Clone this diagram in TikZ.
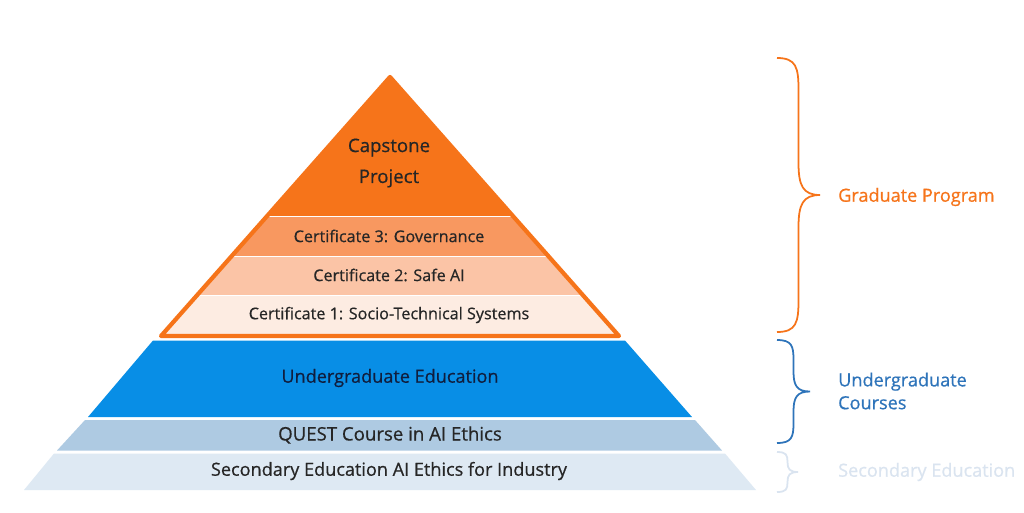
\documentclass[tikz,border=0pt]{standalone}
\usepackage{fontspec}
\setmainfont{Open Sans}[FakeBold=0.6]
\usepackage{tkz-euclide}

\definecolor{naranja}{RGB}{246,116,26}
\definecolor{certtres}{RGB}{248,152,96}
\definecolor{certdos}{RGB}{251,196,166}
\definecolor{certuno}{RGB}{253,236,226}
\definecolor{azul}{RGB}{8,142,230}
\definecolor{azulquest}{RGB}{174,202,226}
\definecolor{azulsec}{RGB}{222,233,243}
\definecolor{textoazul}{RGB}{46,116,186}
\definecolor{textosec}{RGB}{218,228,240}
\definecolor{marino}{RGB}{16,30,62}

\tikzset{
  etiqueta/.style={font=\fontsize{9.2}{10}\selectfont, text=black!85},
  lado/.style={anchor=west, align=left, font=\fontsize{10.3}{13}\selectfont},
  pics/llave/.style n args={3}{code={
    \draw (0,0) .. controls (0.45*#2,0) and (0.5*#2,0.3*#3) .. (0.5*#2,#3)
      -- (0.5*#2,0.5*#1-#3)
      .. controls (0.5*#2,0.5*#1-0.3*#3) and (0.6*#2,0.5*#1) .. (#2,0.5*#1)
      .. controls (0.6*#2,0.5*#1) and (0.5*#2,0.5*#1+0.3*#3) .. (0.5*#2,0.5*#1+#3)
      -- (0.5*#2,#1-#3)
      .. controls (0.5*#2,#1-0.3*#3) and (0.45*#2,#1) .. (0,#1);
  }}
}

\begin{document}
\begin{tikzpicture}[x=0.02cm,y=-0.02cm]
    \useasboundingbox[fill=white] (0,0) rectangle (1024,512);

    % Paso 1: Define los vértices del triángulo naranja
    \tkzDefPoint(390,77){T1}
    \tkzDefPoint(161,336){T2}
    \tkzDefPoint(619,336){T3}

    % Paso 2: Rellena las franjas del programa de posgrado
    \begin{scope}
      \tkzClipPolygon(T1,T2,T3)
      \fill[naranja]  (100,60)  rectangle (700,215.5);
      \fill[certtres] (100,217) rectangle (700,255.5);
      \fill[certdos]  (100,257) rectangle (700,294.5);
      \fill[certuno]  (100,296) rectangle (700,340);
    \end{scope}
    \tkzDrawPolygon[color=naranja, line width=2.4pt](T1,T2,T3)

    % Paso 3: Define y rellena las franjas inferiores
    \tkzDefPoint(153,340.5){U1} \tkzDefPoint(625,340.5){U2}
    \tkzDefPoint(692,417){U3}   \tkzDefPoint(88,417){U4}
    \tkzDefPoint(85,420){Q1}    \tkzDefPoint(695,420){Q2}
    \tkzDefPoint(722,450.5){Q3} \tkzDefPoint(57,450.5){Q4}
    \tkzDefPoint(54,453.5){S1}  \tkzDefPoint(725,453.5){S2}
    \tkzDefPoint(756,490){S3}   \tkzDefPoint(24,490){S4}
    \tkzFillPolygon[color=azul](U1,U2,U3,U4)
    \tkzFillPolygon[color=azulquest](Q1,Q2,Q3,Q4)
    \tkzFillPolygon[color=azulsec](S1,S2,S3,S4)

    % Paso 4: Escribe los textos de cada franja
    \node[etiqueta, align=center, font=\fontsize{10.6}{17.6}\selectfont] (capstone) at (389,163) {Capstone\\Project};
    \node[etiqueta] (cert3) at (389,236) {Certificate 3: Governance};
    \node[etiqueta] (cert2) at (389,275) {Certificate 2: Safe AI};
    \node[etiqueta] (cert1) at (389,315) {Certificate 1: Socio-Technical Systems};
    \node[etiqueta, text=marino, font=\fontsize{10.3}{12}\selectfont] (grado) at (390,378) {Undergraduate Education};
    \node[etiqueta, font=\fontsize{10.6}{12}\selectfont] (quest) at (390,435) {QUEST Course in AI Ethics};
    \node[etiqueta, font=\fontsize{10.3}{12}\selectfont] (secundaria) at (389,471) {Secondary Education AI Ethics for Industry};

    % Paso 5: Dibuja las llaves de la derecha
    \pic[naranja, line width=1pt] at (777,58) {llave={274}{43}{32}};
    \pic[textoazul, line width=1pt] at (777,340) {llave={103}{33}{20}};
    \pic[textosec, line width=1pt] at (777,452) {llave={40}{21}{10}};

    % Paso 6: Agrega los nombres de cada nivel
    \node[lado, text=naranja] (posgrado) at (832,197) {Graduate Program};
    \node[lado, text=textoazul] (cursos) at (832,391) {Undergraduate\\Courses};
    \node[lado, text=textosec] (nivelsec) at (832,472) {Secondary Education};
\end{tikzpicture}
\end{document}
